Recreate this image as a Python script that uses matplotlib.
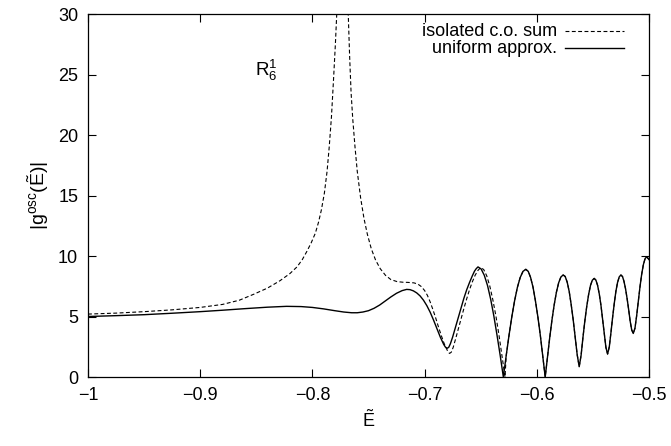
import matplotlib
matplotlib.use('Agg')
import matplotlib.pyplot as plt

# --- global style (gnuplot-like, Helvetica look) ---
plt.rcParams['font.family'] = 'Liberation Sans'
plt.rcParams['font.size'] = 13
plt.rcParams['mathtext.fontset'] = 'custom'
plt.rcParams['mathtext.rm'] = 'Liberation Sans'
plt.rcParams['mathtext.it'] = 'Liberation Sans:italic'
plt.rcParams['axes.linewidth'] = 0.9

# --- data ---
# uniform approximation (solid), up to the first zero
uni_head_E = [-1.000, -0.975, -0.950, -0.925, -0.900, -0.880, -0.860, -0.840, -0.823,
              -0.810, -0.800, -0.790, -0.780, -0.772, -0.765, -0.760, -0.755, -0.750,
              -0.745, -0.740, -0.735, -0.730, -0.725, -0.720, -0.716, -0.713, -0.710,
              -0.707, -0.704, -0.701, -0.698, -0.695, -0.692, -0.689, -0.686, -0.683,
              -0.6815, -0.680, -0.6785, -0.677, -0.675, -0.6725, -0.670, -0.6675,
              -0.665, -0.6625, -0.660, -0.6575, -0.6555, -0.654, -0.6524,
              -0.6496, -0.6468, -0.6439, -0.6411, -0.6383, -0.6355, -0.6326, -0.6298]
uni_head_g = [5.00, 5.07, 5.15, 5.27, 5.40, 5.52, 5.65, 5.77, 5.84,
              5.82, 5.75, 5.63, 5.48, 5.37, 5.31, 5.31, 5.37, 5.48,
              5.68, 5.95, 6.28, 6.62, 6.92, 7.14, 7.24, 7.22, 7.12,
              6.95, 6.70, 6.35, 5.90, 5.35, 4.70, 4.00, 3.30, 2.70,
              2.48, 2.37, 2.45, 2.75, 3.30, 4.10, 4.90, 5.70,
              6.50, 7.20, 7.80, 8.35, 8.75, 8.95, 9.10,
              8.93, 8.41, 7.56, 6.43, 5.06, 3.49, 1.77, 0.00]

# isolated closed-orbit sum (dashed), up to the first zero
iso_head_E = [-1.000, -0.975, -0.950, -0.925, -0.900, -0.880, -0.865, -0.852, -0.840,
              -0.829, -0.820, -0.8137, -0.809, -0.8048, -0.801, -0.7973, -0.7945,
              -0.792, -0.7893, -0.7869, -0.785, -0.783, -0.7812, -0.7795, -0.778,
              -0.7765, -0.773, -0.7695, -0.7682, -0.7668, -0.7655, -0.764, -0.762,
              -0.760, -0.757, -0.754, -0.751, -0.7475, -0.7437, -0.7395, -0.7348,
              -0.730, -0.7244, -0.719, -0.715, -0.7095, -0.706, -0.703, -0.700,
              -0.6975, -0.695, -0.6925, -0.690, -0.6875, -0.685, -0.6825, -0.680,
              -0.679, -0.6777, -0.6762, -0.6745, -0.6725, -0.670, -0.6675, -0.665,
              -0.6625, -0.660, -0.6575, -0.655, -0.6525, -0.650,
              -0.6473, -0.6446, -0.6419, -0.6392, -0.6364, -0.6337, -0.631, -0.6283]
iso_head_g = [5.20, 5.28, 5.40, 5.55, 5.75, 6.00, 6.35, 6.85, 7.35,
              7.95, 8.55, 9.10, 9.70, 10.40, 11.10, 11.90, 12.80,
              13.80, 15.20, 17.00, 19.00, 21.50, 24.50, 27.50, 30.50,
              34.0, 45.0, 34.0, 30.50, 26.50, 23.50, 21.30, 19.00,
              17.00, 14.80, 13.10, 11.80, 10.60, 9.67, 8.95, 8.40,
              8.05, 7.88, 7.83, 7.82, 7.78, 7.68, 7.48, 7.15,
              6.75, 6.20, 5.55, 4.85, 4.10, 3.40, 2.75, 2.25,
              2.05, 1.95, 2.05, 2.45, 3.10, 3.95, 4.80, 5.65,
              6.45, 7.20, 7.85, 8.40, 8.80, 9.05,
              8.88, 8.36, 7.52, 6.40, 5.03, 3.47, 1.76, 0.00]

# oscillating part where both curves coincide
tail_E = [-0.6273, -0.6248, -0.6223, -0.6198, -0.6173, -0.6148, -0.6123, -0.6098,
          -0.6076, -0.6055, -0.6033, -0.6012, -0.5990, -0.5968, -0.5947, -0.5925,
          -0.5905, -0.5885, -0.5865, -0.5845, -0.5825, -0.5805, -0.5785, -0.5765,
          -0.5747, -0.5729, -0.5711, -0.5694, -0.5676, -0.5658, -0.5640, -0.5622,
          -0.5605, -0.5589, -0.5572, -0.5555, -0.5538, -0.5521, -0.5505, -0.5488,
          -0.5473, -0.5458, -0.5443, -0.5428, -0.5414, -0.5399, -0.5384, -0.5369,
          -0.5354, -0.5339, -0.5324, -0.5309, -0.5295, -0.5280, -0.5265, -0.5250,
          -0.5236, -0.5223, -0.5209, -0.5195, -0.5181, -0.5168, -0.5154, -0.5140,
          -0.5125, -0.5110, -0.5095, -0.5080, -0.5065, -0.5050, -0.5035, -0.5020,
          -0.5000]
tail_g = [1.74, 3.41, 4.95, 6.29, 7.40, 8.22, 8.73, 8.90,
          8.73, 8.22, 7.40, 6.29, 4.95, 3.41, 1.74, 0.00,
          1.64, 3.23, 4.69, 5.96, 7.01, 7.79, 8.27, 8.43,
          8.31, 7.84, 7.06, 6.02, 4.77, 3.34, 1.85, 0.85,
          1.80, 3.23, 4.61, 5.82, 6.82, 7.58, 8.00, 8.15,
          8.00, 7.57, 6.86, 5.92, 4.80, 3.58, 2.45, 1.90,
          2.48, 3.67, 4.95, 6.11, 7.08, 7.82, 8.28, 8.43,
          8.30, 7.91, 7.29, 6.48, 5.56, 4.63, 3.89, 3.60,
          4.03, 5.06, 6.28, 7.47, 8.50, 9.29, 9.78, 9.94,
          9.70]

uni_E = uni_head_E + tail_E
uni_g = uni_head_g + tail_g
iso_E = iso_head_E + tail_E
iso_g = iso_head_g + tail_g

xticks = [-1.0, -0.9, -0.8, -0.7, -0.6, -0.5]
xtick_labels = ['\u22121', '\u22120.9', '\u22120.8', '\u22120.7', '\u22120.6', '\u22120.5']
yticks = [0, 5, 10, 15, 20, 25, 30]

fig = plt.figure(figsize=(6.71, 4.46), dpi=100)
ax = fig.add_axes([0.1311, 0.1547, 0.8361, 0.8139])

dash = (0, (3.5, 2.2))
ax.plot(iso_E, iso_g, color='black', linewidth=0.8, linestyle=dash)
ax.plot(uni_E, uni_g, color='black', linewidth=1.0)

ax.set_xlim(-1, -0.5)
ax.set_ylim(0, 30)
ax.set_xticks(xticks)
ax.set_xticklabels(xtick_labels)
ax.set_yticks(yticks)
ax.tick_params(direction='in', length=6, width=0.8, top=True, right=True, pad=7)

ax.set_xlabel(r'$\mathrm{\tilde{E}}$', labelpad=4)
ax.set_ylabel(r'$|\mathrm{g}^{\mathrm{osc}}(\mathrm{\tilde{E}})|$', fontsize=14, labelpad=5)

ax.text(-0.851, 25.3, r'$\mathrm{R}_6^1$', fontsize=13.5, va='center', ha='left')

# gnuplot-style key: right-aligned text, sample line on the right
ax.text(0.836, 0.953, 'isolated c.o. sum', transform=ax.transAxes, ha='right', va='center')
ax.text(0.836, 0.906, 'uniform approx.', transform=ax.transAxes, ha='right', va='center')
ax.plot([0.851, 0.955], [0.953, 0.953], transform=ax.transAxes, color='black',
        linewidth=0.8, linestyle=dash)
ax.plot([0.851, 0.955], [0.906, 0.906], transform=ax.transAxes, color='black',
        linewidth=1.0)

fig.savefig('out.png', dpi=100)
